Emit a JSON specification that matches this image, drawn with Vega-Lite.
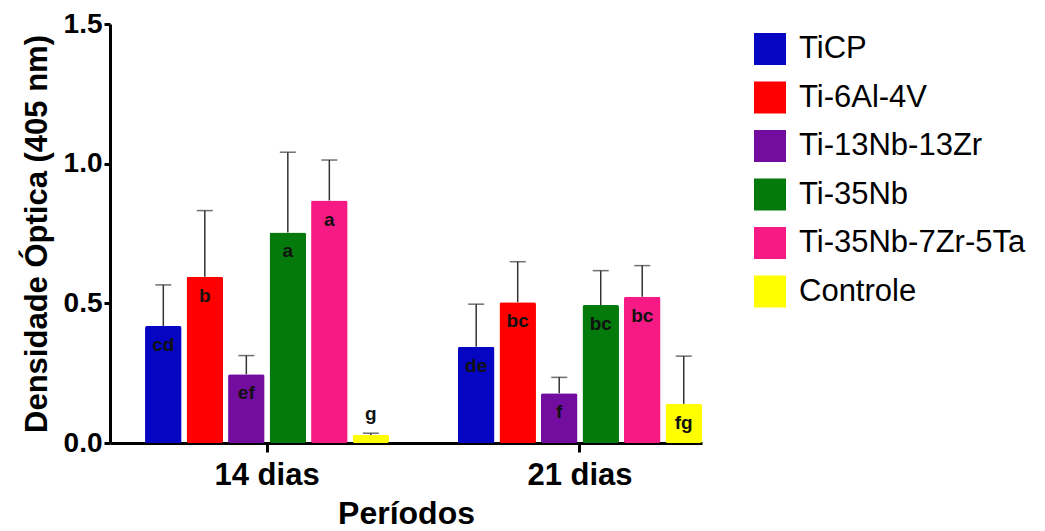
{
  "$schema": "https://vega.github.io/schema/vega-lite/v6.json",
  "width": 592,
  "height": 419,
  "padding": {"left": 21, "top": 10, "right": 5, "bottom": 0},
  "background": "white",
  "config": {
    "view": {"stroke": null},
    "font": "Liberation Sans",
    "axis": {
      "grid": false,
      "domainColor": "black",
      "domainWidth": 3,
      "tickColor": "black",
      "tickWidth": 3,
      "labelFont": "Liberation Sans",
      "labelFontWeight": "bold",
      "labelColor": "black",
      "labelFontSize": 28,
      "titleFont": "Liberation Sans",
      "titleFontWeight": "bold",
      "titleColor": "black",
      "titleFontSize": 31
    },
    "legend": {
      "orient": "none",
      "legendX": 644,
      "legendY": 9,
      "title": null,
      "symbolType": "square",
      "symbolSize": 1024,
      "symbolStrokeWidth": 0,
      "symbolOpacity": 1,
      "labelFont": "Liberation Sans",
      "labelFontSize": 31,
      "labelColor": "black",
      "labelOffset": 13,
      "rowPadding": 16.5,
      "labelLimit": 400
    }
  },
  "data": {
    "values": [
      {"period": "14 dias", "group": "TiCP", "value": 0.419, "upper": 0.566, "label": "cd"},
      {"period": "14 dias", "group": "Ti-6Al-4V", "value": 0.595, "upper": 0.832, "label": "b"},
      {"period": "14 dias", "group": "Ti-13Nb-13Zr", "value": 0.246, "upper": 0.313, "label": "ef"},
      {"period": "14 dias", "group": "Ti-35Nb", "value": 0.754, "upper": 1.041, "label": "a"},
      {"period": "14 dias", "group": "Ti-35Nb-7Zr-5Ta", "value": 0.868, "upper": 1.013, "label": "a"},
      {"period": "14 dias", "group": "Controle", "value": 0.029, "upper": 0.035, "label": "g"},
      {"period": "21 dias", "group": "TiCP", "value": 0.345, "upper": 0.497, "label": "de"},
      {"period": "21 dias", "group": "Ti-6Al-4V", "value": 0.504, "upper": 0.649, "label": "bc"},
      {"period": "21 dias", "group": "Ti-13Nb-13Zr", "value": 0.178, "upper": 0.235, "label": "f"},
      {"period": "21 dias", "group": "Ti-35Nb", "value": 0.494, "upper": 0.617, "label": "bc"},
      {"period": "21 dias", "group": "Ti-35Nb-7Zr-5Ta", "value": 0.524, "upper": 0.635, "label": "bc"},
      {"period": "21 dias", "group": "Controle", "value": 0.14, "upper": 0.311, "label": "fg"}
    ]
  },
  "encoding": {
    "x": {
      "field": "period",
      "type": "nominal",
      "scale": {"paddingInner": 0.22, "paddingOuter": 0.056, "align": 1},
      "axis": {"title": "Períodos", "labelAngle": 0, "tickSize": 9, "labelPadding": 8, "titlePadding": 8, "labelFontSize": 31, "titleFontSize": 32}
    },
    "xOffset": {
      "field": "group",
      "type": "nominal",
      "sort": ["TiCP", "Ti-6Al-4V", "Ti-13Nb-13Zr", "Ti-35Nb", "Ti-35Nb-7Zr-5Ta", "Controle"],
      "scale": {"paddingInner": 0.12, "paddingOuter": 0}
    }
  },
  "layer": [
    {
      "mark": {"type": "bar", "cornerRadius": 2},
      "encoding": {
        "y": {
          "field": "value",
          "type": "quantitative",
          "scale": {"domain": [0, 1.5], "nice": false},
          "axis": {"title": "Densidade Óptica (405 nm)", "values": [0, 0.5, 1, 1.5], "format": ".1f", "tickSize": 6, "labelPadding": 2, "titlePadding": 10}
        },
        "color": {
          "field": "group",
          "type": "nominal",
          "sort": ["TiCP", "Ti-6Al-4V", "Ti-13Nb-13Zr", "Ti-35Nb", "Ti-35Nb-7Zr-5Ta", "Controle"],
          "scale": {
            "domain": ["TiCP", "Ti-6Al-4V", "Ti-13Nb-13Zr", "Ti-35Nb", "Ti-35Nb-7Zr-5Ta", "Controle"],
            "range": ["#0505C2", "#FE0000", "#720DA0", "#037A0B", "#F71A84", "#FFFF00"]
          }
        }
      }
    },
    {
      "mark": {"type": "rule", "color": "#333333", "strokeWidth": 1.5},
      "encoding": {
        "y": {"field": "value", "type": "quantitative"},
        "y2": {"field": "upper"}
      }
    },
    {
      "mark": {"type": "tick", "color": "#333333", "thickness": 1.5, "size": 16},
      "encoding": {
        "y": {"field": "upper", "type": "quantitative"}
      }
    },
    {
      "transform": [{"filter": "datum.label != 'g'"}],
      "mark": {"type": "text", "dy": 19, "fontSize": 19, "fontWeight": "bold", "color": "#111111", "font": "Liberation Sans"},
      "encoding": {
        "y": {"field": "value", "type": "quantitative"},
        "text": {"field": "label"}
      }
    },
    {
      "transform": [{"filter": "datum.label == 'g'"}],
      "mark": {"type": "text", "dy": -21, "fontSize": 19, "fontWeight": "bold", "color": "#111111", "font": "Liberation Sans"},
      "encoding": {
        "y": {"field": "value", "type": "quantitative"},
        "text": {"field": "label"}
      }
    }
  ]
}
